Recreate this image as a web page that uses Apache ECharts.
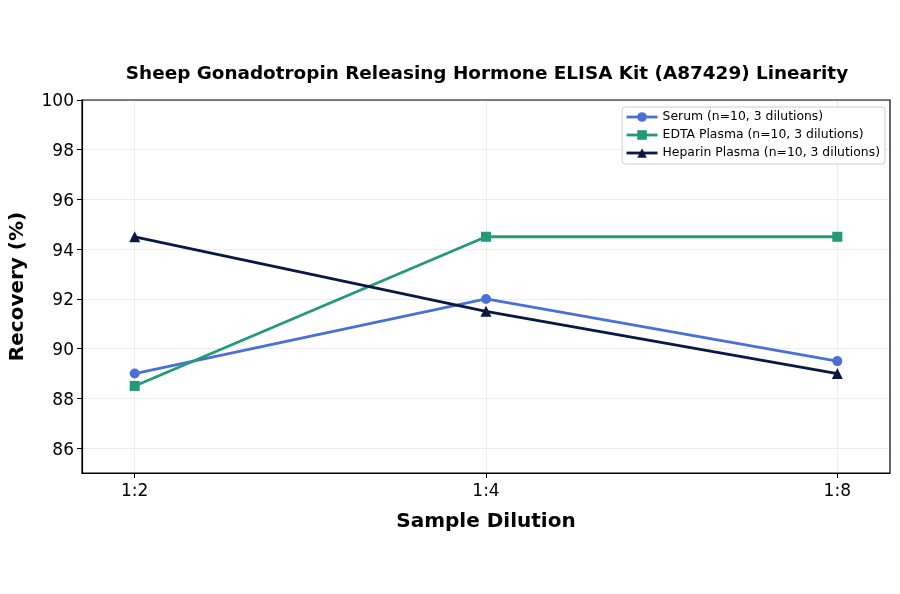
<!DOCTYPE html>
<html><head><meta charset="utf-8">
<script src="https://cdn.jsdelivr.net/npm/echarts@6/dist/echarts.min.js"></script>
<style>html,body{margin:0;padding:0;background:#fff}#c{width:900px;height:594px}</style>
</head><body><div id="c"></div>
<script>
var categories = ['1:2', '1:4', '1:8'];
var serum = [89.0, 92.0, 89.5];
var edta = [88.5, 94.5, 94.5];
var heparin = [94.5, 91.5, 89.0];
var seriesNames = ['Serum (n=10, 3 dilutions)', 'EDTA Plasma (n=10, 3 dilutions)', 'Heparin Plasma (n=10, 3 dilutions)'];
var yTicks = [86, 88, 90, 92, 94, 96, 98, 100];

var colors = ['#4a70d8', '#229a78', '#0b1842'];
var symbols = ['circle', 'rect', 'triangle'];
var sizes = [10, 10, 11];
var font = 'DejaVu Sans';

function pts(arr) { return arr.map(function (v, i) { return [i, v]; }); }
var dataSets = [serum, edta, heparin];

var series = dataSets.map(function (d, k) {
  return {
    name: seriesNames[k], type: 'line', data: pts(d),
    symbol: symbols[k], symbolSize: sizes[k], showAllSymbol: true,
    lineStyle: { width: 2.8, color: colors[k] },
    itemStyle: { color: colors[k], borderWidth: 0 },
    emphasis: { disabled: true }, z: 3 + k
  };
});

var chart = echarts.init(document.getElementById('c'));
chart.setOption({
  animation: false,
  backgroundColor: '#fff',
  title: {
    text: 'Sheep Gonadotropin Releasing Hormone ELISA Kit (A87429) Linearity',
    left: 482, top: 60, textAlign: 'center',
    textStyle: { fontFamily: font, fontWeight: 'bold', fontSize: 18.4, color: '#000' }
  },
  legend: {
    right: 15, top: 107, orient: 'vertical', itemGap: 6,
    itemWidth: 31, itemHeight: 12,
    backgroundColor: '#fff', borderColor: '#cccccc', borderWidth: 1, borderRadius: 3,
    padding: [4, 5, 5, 3],
    lineStyle: { width: 2.8 },
    textStyle: { fontFamily: font, fontSize: 12.4, color: '#000' },
    data: seriesNames
  },
  grid: { left: 82, right: 10, top: 100, bottom: 121, containLabel: false },
  xAxis: {
    type: 'value', min: -0.15, max: 2.15,
    name: 'Sample Dilution', nameLocation: 'middle', nameGap: 39,
    nameTextStyle: { fontFamily: font, fontWeight: 'bold', fontSize: 20, color: '#000' },
    axisLine: { show: true, onZero: false, lineStyle: { color: '#000', width: 1.2 } },
    axisTick: { show: true, customValues: [0, 1, 2], length: 5, lineStyle: { color: '#000' } },
    axisLabel: { customValues: [0, 1, 2], formatter: function (v) { return categories[Math.round(v)]; },
      fontFamily: font, fontSize: 17, color: '#000', margin: 10 },
    splitLine: { show: true, lineStyle: { color: '#e8e8e8', width: 0.8 } }
  },
  yAxis: {
    type: 'value', min: 85, max: 100,
    name: 'Recovery (%)', nameLocation: 'middle', nameGap: 54,
    nameTextStyle: { fontFamily: font, fontWeight: 'bold', fontSize: 20, color: '#000' },
    axisLine: { show: true, onZero: false, lineStyle: { color: '#000', width: 1.2 } },
    axisTick: { show: true, customValues: yTicks, length: 5, lineStyle: { color: '#000' } },
    axisLabel: { customValues: yTicks, color: '#000', margin: 8,
      formatter: function (v) { return '{a|' + v + '}'; },
      rich: { a: { fontFamily: font, fontSize: 17, color: '#000', padding: [4, 0, 0, 0] } } },
    splitLine: { show: true, lineStyle: { color: '#e8e8e8', width: 0.8 } }
  },
  series: series,
  graphic: [{
    type: 'rect', silent: true, z: 10,
    shape: { x: 82, y: 100, width: 808, height: 373 },
    style: { fill: 'none', stroke: '#000', lineWidth: 1.2 }
  }]
});
</script></body></html>
